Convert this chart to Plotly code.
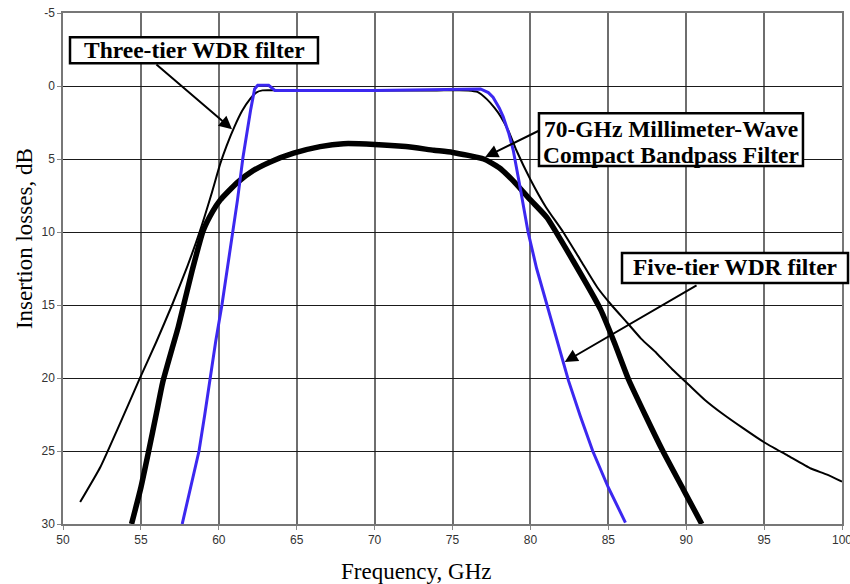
import plotly.graph_objects as go

# ---- data ----
three_tier_f = [51.1, 52.4, 53.5, 54.9, 56.0, 57.0, 58.0, 58.8, 59.5, 60.1, 60.5, 61.0, 61.5, 62.0,
                62.4, 62.8, 64.0, 66.0, 68.0, 70.0, 72.0, 74.0, 76.0, 76.6, 77.2, 77.7, 78.1, 78.6,
                79.1, 80.0, 81.0, 82.1, 83.2, 84.3, 85.2, 86.2, 87.1, 88.1, 89.1, 90.2, 91.2, 92.4,
                93.6, 95.0, 96.5, 98.0, 99.0, 100.0]
three_tier_db = [28.5, 26.1, 23.5, 20.1, 17.5, 15.0, 12.3, 9.9, 7.5, 5.3, 4.1, 2.8, 1.7, 0.9,
                 0.45, 0.3, 0.3, 0.3, 0.3, 0.3, 0.3, 0.3, 0.3, 0.4, 0.9, 1.5, 2.1, 3.1,
                 4.4, 6.4, 8.3, 10.0, 11.9, 13.8, 15.0, 16.2, 17.3, 18.3, 19.4, 20.5, 21.5, 22.5,
                 23.4, 24.4, 25.3, 26.2, 26.6, 27.1]

compact_f = [54.4, 55.0, 55.5, 56.0, 56.4, 57.0, 57.4, 58.3, 59.0, 59.6, 60.1, 61.2, 62.2, 63.3,
             64.8, 66.5, 68.0, 70.0, 72.0, 73.8, 75.0, 77.0, 78.0, 78.9, 80.0, 81.05, 82.7, 84.5,
             85.4, 86.3, 87.4, 88.5, 89.8, 91.0]
compact_db = [30.0, 27.5, 25.0, 22.4, 20.3, 18.0, 16.5, 12.6, 9.9, 8.6, 7.8, 6.6, 5.8, 5.2,
              4.6, 4.15, 3.95, 4.0, 4.15, 4.4, 4.55, 5.0, 5.6, 6.5, 7.8, 9.0, 11.9, 15.3,
              17.6, 20.1, 22.6, 25.0, 27.6, 30.0]

five_tier_f = [57.65, 58.2, 58.73, 59.1, 59.4, 59.8, 60.2, 60.55, 60.9, 61.2, 61.55, 61.8, 62.05,
               62.3, 62.5, 63.2, 63.6, 70.0, 76.5, 76.8, 77.3, 77.6, 78.0, 78.25, 78.6, 78.9,
               79.35, 79.85, 80.4, 81.05, 81.8, 82.45, 83.2, 84.0, 85.0, 86.1]
five_tier_db = [30.0, 27.5, 25.0, 22.5, 20.3, 17.5, 15.0, 12.5, 9.9, 7.8, 4.9, 3.2, 1.6,
                0.2, -0.05, -0.05, 0.3, 0.3, 0.25, 0.2, 0.45, 0.77, 1.5, 2.1, 3.2, 4.4,
                7.0, 10.0, 12.5, 15.0, 17.8, 20.2, 22.6, 25.0, 27.5, 29.9]

x_ticks = [50, 55, 60, 65, 70, 75, 80, 85, 90, 95, 100]
y_ticks = [-5, 0, 5, 10, 15, 20, 25, 30]
y_tick_labels = ["-5", "0", "5", "10", "15", "20", "25", "30"]

fig = go.Figure()
fig.add_trace(go.Scatter(x=three_tier_f, y=three_tier_db, mode="lines",
                         line=dict(color="black", width=2, shape="spline", smoothing=0.5),
                         name="Three-tier WDR filter"))
fig.add_trace(go.Scatter(x=compact_f, y=compact_db, mode="lines",
                         line=dict(color="black", width=5.5, shape="spline", smoothing=0.5),
                         name="70-GHz compact BPF"))
fig.add_trace(go.Scatter(x=five_tier_f, y=five_tier_db, mode="lines",
                         line=dict(color="#3c28f0", width=3), name="Five-tier WDR filter"))

box_font = dict(family="Liberation Serif", size=23.5, color="black", weight="bold")

def box(x0, y0, x1, y1):
    fig.add_shape(type="rect", xref="paper", yref="paper", x0=x0, y0=y0, x1=x1, y1=y1,
                  fillcolor="white", line=dict(color="black", width=2.5), layer="above")

def label(x, y, text):
    fig.add_annotation(x=x, y=y, xref="paper", yref="paper", text=text, showarrow=False,
                       font=box_font, xanchor="center", yanchor="middle")

def arrow(xh, yh, xt, yt):
    fig.add_annotation(x=xh, y=yh, ax=xt, ay=yt, xref="x", yref="y", axref="x", ayref="y",
                       text="", showarrow=True, arrowhead=2, arrowsize=1.3,
                       arrowwidth=2, arrowcolor="black")

box(0.009, 0.9017, 0.3273, 0.9525)
label(0.1682, 0.9271, "Three-tier WDR filter")
box(0.6110, 0.7004, 0.9499, 0.8040)
label(0.7805, 0.7737, "70-GHz Millimeter-Wave")
label(0.7805, 0.7219, "Compact Bandpass Filter")
box(0.7176, 0.4717, 1.0077, 0.5303)
label(0.8626, 0.5029, "Five-tier WDR filter")

arrow(60.85, 2.96, 55.9, -1.56)
arrow(77.1, 4.87, 80.6, 3.03)
arrow(82.2, 18.9, 90.76, 13.6)

title_font = dict(family="Liberation Serif", size=23, color="black")
fig.add_annotation(xref="paper", yref="paper", x=0.4538, y=-0.093, text="Frequency, GHz",
                   showarrow=False, font=title_font, xanchor="center", yanchor="middle")
fig.add_annotation(xref="paper", yref="paper", x=-0.05, y=0.5577, text="Insertion losses, dB",
                   showarrow=False, font=title_font, textangle=-90,
                   xanchor="center", yanchor="middle")

fig.update_layout(
    width=850, height=584,
    margin=dict(l=63, r=8, t=13, b=60),
    paper_bgcolor="white", plot_bgcolor="white",
    showlegend=False,
    font=dict(family="Liberation Sans", size=12, color="#333333"),
)
fig.update_xaxes(range=[50, 100], tickvals=x_ticks, showgrid=True, gridcolor="#6e6e6e",
                 gridwidth=1.5, showline=True, linecolor="#777777", linewidth=1.5, mirror=True,
                 ticks="outside", ticklen=4, tickcolor="#888888", zeroline=False,
                 ticklabeloverflow="allow", automargin=False)
fig.update_yaxes(range=[30, -5], tickvals=y_ticks, ticktext=y_tick_labels, showgrid=True,
                 gridcolor="#1a1a1a", gridwidth=1.2, showline=True, linecolor="#777777",
                 linewidth=1.5, mirror=True, ticks="outside", ticklen=4, tickcolor="#888888",
                 zeroline=False, ticklabeloverflow="allow", automargin=False)

fig.write_html("out.html", config={"displayModeBar": False},
               post_script="document.body.style.margin='0';document.body.style.overflow='hidden';")
